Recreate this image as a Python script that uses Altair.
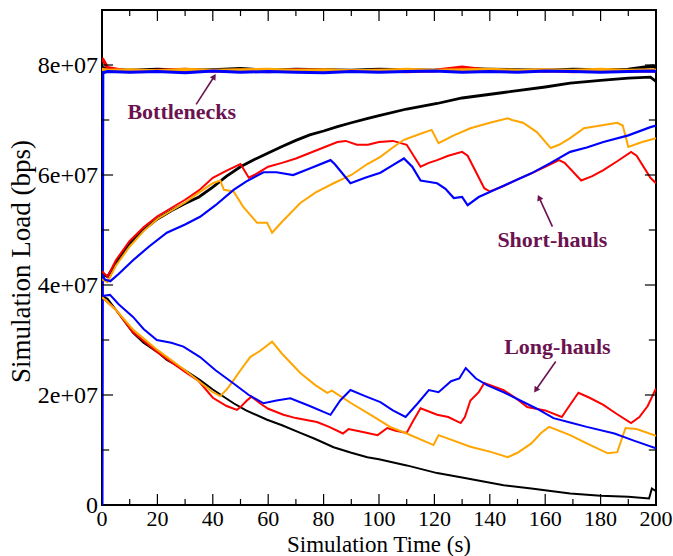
import altair as alt
import pandas as pd

# ---------------- data (load values in units of 1e7 bps) ----------------
BN_T = [0, 0.3, 2, 10, 20, 30, 40, 50, 60, 70, 80, 90, 100, 110, 120, 130, 140, 150, 160, 170, 180, 190, 199, 200]
BN_BLACK = [7.95, 7.95, 7.92, 7.9, 7.92, 7.9, 7.91, 7.93, 7.9, 7.92, 7.91, 7.9, 7.92, 7.91, 7.9, 7.93, 7.92, 7.91, 7.9, 7.92, 7.91, 7.92, 7.98, 7.95]
BN_RED = [8.1, 8.1, 7.95, 7.88, 7.9, 7.92, 7.89, 7.9, 7.88, 7.91, 7.9, 7.89, 7.9, 7.88, 7.9, 7.96, 7.9, 7.89, 7.9, 7.88, 7.9, 7.89, 7.9, 7.88]
BN_ORANGE = [7.92, 7.92, 7.9, 7.91, 7.89, 7.92, 7.9, 7.91, 7.92, 7.9, 7.91, 7.89, 7.9, 7.92, 7.9, 7.91, 7.92, 7.9, 7.91, 7.9, 7.92, 7.9, 7.91, 7.9]
BN_BLUE = [0.0, 7.86, 7.88, 7.87, 7.88, 7.86, 7.89, 7.87, 7.88, 7.87, 7.86, 7.88, 7.87, 7.88, 7.89, 7.87, 7.88, 7.87, 7.89, 7.88, 7.87, 7.88, 7.89, 7.88]

SH_BLACK_T = [0, 2, 5, 10, 15, 20, 25, 30, 35, 40, 45, 50, 55, 60, 65, 70, 75, 80, 85, 90, 96, 100, 110, 121, 130, 145, 160, 169, 180, 190, 198, 200]
SH_BLACK = [4.2, 4.15, 4.4, 4.75, 5.0, 5.2, 5.35, 5.48, 5.6, 5.78, 5.98, 6.15, 6.28, 6.4, 6.52, 6.63, 6.73, 6.8, 6.88, 6.95, 7.03, 7.08, 7.2, 7.3, 7.4, 7.5, 7.6, 7.67, 7.72, 7.76, 7.78, 7.7]

SH_RED_T = [0, 2, 5, 10, 15, 20, 25, 30, 35, 40, 45, 50, 53, 55, 60, 65, 70, 75, 80, 85, 88, 92, 96, 100, 105, 110, 115, 118, 121, 125, 130, 132, 138, 140, 145, 150, 155, 160, 165, 167, 173, 177, 181, 186, 191, 193, 198, 200]
SH_RED = [4.25, 4.15, 4.45, 4.8, 5.05, 5.25, 5.4, 5.55, 5.72, 5.95, 6.08, 6.2, 5.95, 6.0, 6.15, 6.22, 6.3, 6.4, 6.5, 6.6, 6.62, 6.55, 6.55, 6.6, 6.62, 6.55, 6.15, 6.22, 6.27, 6.35, 6.42, 6.35, 5.76, 5.7, 5.8, 5.92, 6.03, 6.15, 6.27, 6.22, 5.9, 5.98, 6.09, 6.25, 6.42, 6.35, 5.95, 5.85]

SH_ORANGE_T = [0, 2, 5, 10, 15, 20, 25, 30, 35, 40, 42.7, 44, 47.5, 51, 56, 59.6, 61.4, 65, 71.6, 77, 83.6, 90, 95.8, 100.5, 105, 109, 115, 119, 121.5, 127, 133, 140, 146.5, 148, 152, 157, 162, 165, 169, 174, 180, 186, 188, 190, 195, 200]
SH_ORANGE = [4.1, 4.05, 4.35, 4.7, 4.98, 5.2, 5.35, 5.5, 5.68, 5.85, 5.9, 5.73, 5.7, 5.42, 5.13, 5.13, 4.95, 5.15, 5.49, 5.68, 5.85, 6.0, 6.2, 6.33, 6.5, 6.64, 6.75, 6.82, 6.58, 6.72, 6.85, 6.95, 7.03, 7.0, 6.95, 6.78, 6.49, 6.55, 6.67, 6.85, 6.9, 6.95, 6.9, 6.51, 6.6, 6.67]

SH_BLUE_T = [0, 1, 3, 6, 11.2, 17, 23.4, 30, 35.4, 41, 47.5, 52, 58.3, 63, 69, 75, 82.5, 84, 89.7, 95, 100.5, 105, 109, 112, 115, 121, 124, 127, 130, 132, 136, 140, 147, 155, 162, 169, 175, 181, 190, 198, 200]
SH_BLUE = [4.2, 4.1, 4.07, 4.2, 4.45, 4.7, 4.95, 5.1, 5.24, 5.45, 5.73, 5.88, 6.05, 6.05, 6.0, 6.12, 6.27, 6.2, 5.85, 5.95, 6.04, 6.18, 6.3, 6.15, 5.9, 5.85, 5.75, 5.58, 5.6, 5.45, 5.6, 5.69, 5.85, 6.03, 6.22, 6.42, 6.5, 6.6, 6.72, 6.87, 6.9]

LH_BLACK_T = [0, 2, 5, 11.2, 15, 20, 23.4, 30, 35.4, 40, 47.5, 52, 59.6, 65, 71.6, 77, 83.6, 90, 95.8, 100, 110, 121, 130, 145, 155, 169, 180, 190, 197.5, 198.5, 200]
LH_BLACK = [3.8, 3.75, 3.55, 3.13, 2.95, 2.78, 2.64, 2.45, 2.27, 2.1, 1.85, 1.72, 1.55, 1.45, 1.31, 1.2, 1.05, 0.95, 0.87, 0.83, 0.72, 0.58, 0.5, 0.36, 0.3, 0.21, 0.17, 0.15, 0.12, 0.3, 0.25]

LH_RED_T = [0, 5, 11, 20, 30, 35, 40, 45, 48.7, 50, 52.3, 54, 57, 60, 65.5, 70, 77.6, 82, 87, 89, 92, 95, 99.5, 103, 106, 110, 112, 115, 121, 125, 129.5, 131, 133, 136, 138, 145, 150, 153.5, 160, 166, 168, 172, 176, 181, 186, 191, 194, 197, 200]
LH_RED = [3.78, 3.55, 3.15, 2.78, 2.42, 2.25, 1.95, 1.8, 1.73, 1.78, 1.9, 1.97, 1.85, 1.75, 1.64, 1.58, 1.51, 1.42, 1.3, 1.38, 1.35, 1.32, 1.27, 1.4, 1.35, 1.31, 1.5, 1.76, 1.64, 1.6, 1.49, 1.6, 1.9, 2.05, 2.22, 2.09, 1.92, 1.78, 1.72, 1.6, 1.75, 2.04, 1.95, 1.82, 1.65, 1.49, 1.6, 1.8, 2.12]

LH_ORANGE_T = [0, 5, 11, 20, 30, 35, 40, 42.7, 45, 47.5, 50, 53.5, 57, 61.4, 65, 71.6, 77, 81.3, 83, 90, 97, 104, 110, 119.7, 121.5, 133, 140, 146.5, 150, 155, 158.5, 161.4, 169, 175, 182.6, 186, 189, 193, 200]
LH_ORANGE = [3.78, 3.55, 3.2, 2.82, 2.45, 2.25, 2.05, 1.98, 2.1, 2.27, 2.45, 2.69, 2.8, 2.97, 2.75, 2.4, 2.18, 2.04, 2.08, 1.85, 1.64, 1.42, 1.3, 1.09, 1.27, 1.06, 0.97, 0.87, 0.95, 1.12, 1.31, 1.42, 1.27, 1.12, 0.94, 0.96, 1.4, 1.38, 1.26]

LH_BLUE_T = [0, 2.9, 6, 11.2, 15, 19.8, 25, 29.4, 35.4, 41, 47.5, 53, 58.3, 63, 68, 75, 82.5, 86, 89.7, 95, 100.5, 105, 109.6, 114, 118, 121.5, 126, 129, 131.3, 135, 139, 145, 151, 157, 163, 169, 175, 185, 192, 200]
LH_BLUE = [3.8, 3.82, 3.65, 3.42, 3.2, 3.0, 2.95, 2.88, 2.69, 2.45, 2.21, 2.0, 1.85, 1.9, 1.94, 1.8, 1.64, 1.9, 2.09, 1.98, 1.87, 1.72, 1.6, 1.85, 2.09, 2.05, 2.25, 2.3, 2.49, 2.3, 2.18, 2.05, 1.9, 1.75, 1.58, 1.5, 1.42, 1.3, 1.17, 1.03]

X_TICKS = [0, 20, 40, 60, 80, 100, 120, 140, 160, 180, 200]
X_MINOR = [10, 30, 50, 70, 90, 110, 130, 150, 170, 190]
Y_TICKS = [0, 2, 4, 6, 8]
Y_MINOR = [1, 3, 5, 7]
Y_TICK_LABELS = ["0", "2e+07", "4e+07", "6e+07", "8e+07"]
X_TITLE = "Simulation Time (s)"
Y_TITLE = "Simulation Load (bps)"

LABELS = ["Bottlenecks", "Short-hauls", "Long-hauls"]
LABEL_T = [28.8, 162.6, 164.4]
LABEL_V = [7.15, 4.82, 2.88]
ARROW_T0 = [34.0, 162.6, 163.8]
ARROW_V0 = [7.285, 5.06, 2.61]
ARROW_T1 = [40.5, 157.8, 156.6]
ARROW_V1 = [7.79, 5.59, 2.09]
ARROW_ANGLE = [33, 335, 215]

SCALE = 1e7
COLORS = {"black": "#000000", "red": "#ff0000", "orange": "#ffa500", "blue": "#0000ff"}
ANN = "#6b1350"
FONT = "Liberation Serif"
W, H = 554, 495

series = [
    ("bn", "black", BN_T, BN_BLACK, 3.5), ("bn", "red", BN_T, BN_RED, 3.5),
    ("bn", "orange", BN_T, BN_ORANGE, 3.5), ("bn", "blue", BN_T, BN_BLUE, 3.0),
    ("sh", "black", SH_BLACK_T, SH_BLACK, 2.8), ("sh", "red", SH_RED_T, SH_RED, 2.0),
    ("sh", "orange", SH_ORANGE_T, SH_ORANGE, 2.0), ("sh", "blue", SH_BLUE_T, SH_BLUE, 2.2),
    ("lh", "black", LH_BLACK_T, LH_BLACK, 2.0), ("lh", "red", LH_RED_T, LH_RED, 2.0),
    ("lh", "orange", LH_ORANGE_T, LH_ORANGE, 2.0), ("lh", "blue", LH_BLUE_T, LH_BLUE, 2.0),
]

xscale = alt.Scale(domain=[0, 200], nice=False, zero=False)
yscale = alt.Scale(domain=[0, 9 * SCALE], nice=False, zero=False)


def X(field):
    return alt.X(field, type="quantitative", scale=xscale, axis=None)


def Y(field):
    return alt.Y(field, type="quantitative", scale=yscale, axis=None)


layers = []
for grp, col, ts, vs, sw in series:
    df = pd.DataFrame({"t": ts, "v": [v * SCALE for v in vs], "idx": list(range(len(ts)))})
    layers.append(
        alt.Chart(df).mark_line(color=COLORS[col], strokeWidth=sw, clip=True).encode(
            x=X("t"), y=Y("v"), order=alt.Order("idx:Q"),
        )
    )

# inward ticks on all four sides
rows = []
for t in X_TICKS:
    if 0 < t < 200:
        rows.append({"t": t, "t2": t, "v": 0, "v2": 0.2 * SCALE})
        rows.append({"t": t, "t2": t, "v": 9 * SCALE, "v2": 8.8 * SCALE})
for t in X_MINOR:
    rows.append({"t": t, "t2": t, "v": 0, "v2": 0.11 * SCALE})
    rows.append({"t": t, "t2": t, "v": 9 * SCALE, "v2": 8.89 * SCALE})
for v in Y_TICKS:
    if v > 0:
        rows.append({"t": 0, "t2": 4.0, "v": v * SCALE, "v2": v * SCALE})
        rows.append({"t": 200, "t2": 196.0, "v": v * SCALE, "v2": v * SCALE})
for v in Y_MINOR:
    rows.append({"t": 0, "t2": 2.6, "v": v * SCALE, "v2": v * SCALE})
    rows.append({"t": 200, "t2": 197.4, "v": v * SCALE, "v2": v * SCALE})
ticks = alt.Chart(pd.DataFrame(rows)).mark_rule(color="black", strokeWidth=1.2).encode(
    x=X("t"), x2="t2:Q", y=Y("v"), y2="v2:Q",
)

# tick labels and axis titles as text marks (serif font)
xlab_df = pd.DataFrame({"t": X_TICKS, "v": [0] * len(X_TICKS), "lab": [str(t) for t in X_TICKS]})
xlabels = alt.Chart(xlab_df).mark_text(font=FONT, fontSize=22, color="black", align="center",
                                       baseline="alphabetic", dy=21).encode(
    x=X("t"), y=Y("v"), text="lab:N")
ylab_df = pd.DataFrame({"t": [0] * len(Y_TICKS), "v": [v * SCALE for v in Y_TICKS], "lab": Y_TICK_LABELS})
ylabels = alt.Chart(ylab_df).mark_text(font=FONT, fontSize=24, color="black", align="right",
                                       baseline="middle", dx=-4, dy=1).encode(
    x=X("t"), y=Y("v"), text="lab:N")
title_df = pd.DataFrame({"lab": [X_TITLE]})
xtitle = alt.Chart(title_df).mark_text(font=FONT, fontSize=23, color="black", align="center",
                                       baseline="alphabetic").encode(
    x=alt.value(W / 2), y=alt.value(H + 47), text="lab:N")
ytitle_df = pd.DataFrame({"lab": [Y_TITLE]})
ytitle = alt.Chart(ytitle_df).mark_text(font=FONT, fontSize=27, color="black", align="center",
                                        baseline="middle", angle=270).encode(
    x=alt.value(-80), y=alt.value(H / 2 + 4), text="lab:N")

ann = pd.DataFrame({
    "label": LABELS, "lt": LABEL_T, "lv": [v * SCALE for v in LABEL_V],
    "t0": ARROW_T0, "v0": [v * SCALE for v in ARROW_V0],
    "t1": ARROW_T1, "v1": [v * SCALE for v in ARROW_V1], "ang": ARROW_ANGLE,
})
texts = alt.Chart(ann).mark_text(font=FONT, fontWeight="bold", fontSize=22, color=ANN,
                                 baseline="middle", align="center").encode(
    x=X("lt"), y=Y("lv"), text="label:N")
arrows = alt.Chart(ann).mark_rule(color=ANN, strokeWidth=1.6).encode(
    x=X("t0"), y=Y("v0"), x2="t1:Q", y2="v1:Q")
heads = alt.Chart(ann).mark_point(shape="triangle-up", filled=True, color=ANN, size=45, opacity=1).encode(
    x=X("t1"), y=Y("v1"), angle=alt.Angle("ang:Q", scale=None))

chart = alt.layer(*layers, ticks, arrows, heads, texts, xlabels, ylabels, xtitle, ytitle).properties(
    width=W, height=H,
    autosize=alt.AutoSizeParams(type="none"),
    padding={"left": 102, "top": 10, "right": 17, "bottom": 51},
    background="white",
).configure_view(stroke="black", strokeWidth=2)

chart.save("out.html", embed_options={"renderer": "svg", "actions": False})
